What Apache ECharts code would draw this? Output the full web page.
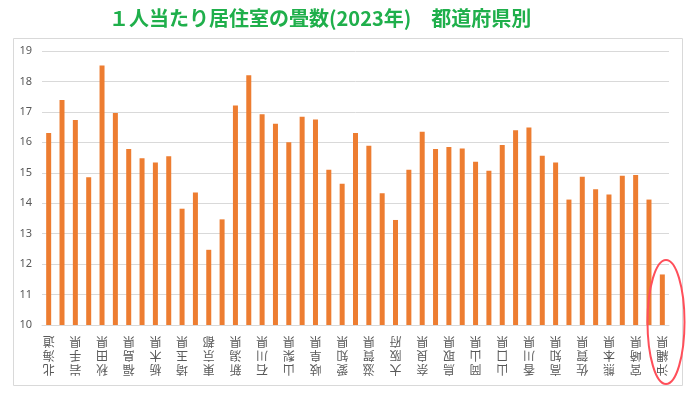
<!DOCTYPE html>
<html><head><meta charset="utf-8">
<script src="https://cdn.jsdelivr.net/npm/echarts@6/dist/echarts.min.js"></script>
<style>html,body{margin:0;padding:0;background:#fff}#c{width:700px;height:397px}</style>
</head><body><div id="c"></div>
<script>
const prefectures = ['北海道','青森県','岩手県','宮城県','秋田県','山形県','福島県','茨城県','栃木県','群馬県','埼玉県','千葉県','東京都','神奈川県','新潟県','富山県','石川県','福井県','山梨県','長野県','岐阜県','静岡県','愛知県','三重県','滋賀県','京都府','大阪府','兵庫県','奈良県','和歌山県','鳥取県','島根県','岡山県','広島県','山口県','徳島県','香川県','愛媛県','高知県','福岡県','佐賀県','長崎県','熊本県','大分県','宮崎県','鹿児島県','沖縄県'];
const tatami = [16.31,17.39,16.73,14.85,18.52,16.96,15.78,15.48,15.34,15.54,13.82,14.35,12.47,13.47,17.21,18.20,16.92,16.61,16.00,16.84,16.75,15.10,14.64,16.31,15.89,14.33,13.45,15.10,16.35,15.78,15.85,15.80,15.36,15.07,15.91,16.40,16.49,15.56,15.34,14.12,14.87,14.46,14.29,14.90,14.93,14.12,11.66];
const yTicks = {min:10, max:19, step:1};
const titleText = '１人当たり居住室の畳数(2023年)　都道府県別';

const chart = echarts.init(document.getElementById('c'));
chart.setOption({
  animation:false,
  title:{text:titleText,left:104,top:3,textStyle:{color:'#1FAF4B',fontSize:20,fontWeight:'bold',fontFamily:'"Noto Sans CJK JP"'}},
  grid:{left:42,right:31,top:51,bottom:72},
  xAxis:{type:'category',data:prefectures,
    axisLine:{lineStyle:{color:'#D9D9D9'}},axisTick:{show:false},
    axisLabel:{interval:1,rotate:180,color:'#595959',fontSize:12,lineHeight:14,margin:10,fontFamily:'"Noto Sans CJK JP"',
      formatter:v=>v.split('').join('\n')}},
  yAxis:{type:'value',min:yTicks.min,max:yTicks.max,interval:yTicks.step,
    axisLine:{show:false},axisTick:{show:false},
    axisLabel:{color:'#595959',fontSize:11,margin:10,fontFamily:'"Noto Sans"'},
    splitLine:{lineStyle:{color:'#D9D9D9'}}},
  series:[{type:'bar',data:tatami,barWidth:5,itemStyle:{color:'#ED7D31'}}],
  graphic:[
    {type:'rect',shape:{x:13.5,y:38.5,width:669,height:347},style:{fill:null,stroke:'#D9D9D9',lineWidth:1},z:-1},
    {type:'ellipse',shape:{cx:666,cy:322,rx:18.5,ry:62},style:{fill:null,stroke:'#FF4F5A',lineWidth:2},z:10}
  ]
});
</script></body></html>
